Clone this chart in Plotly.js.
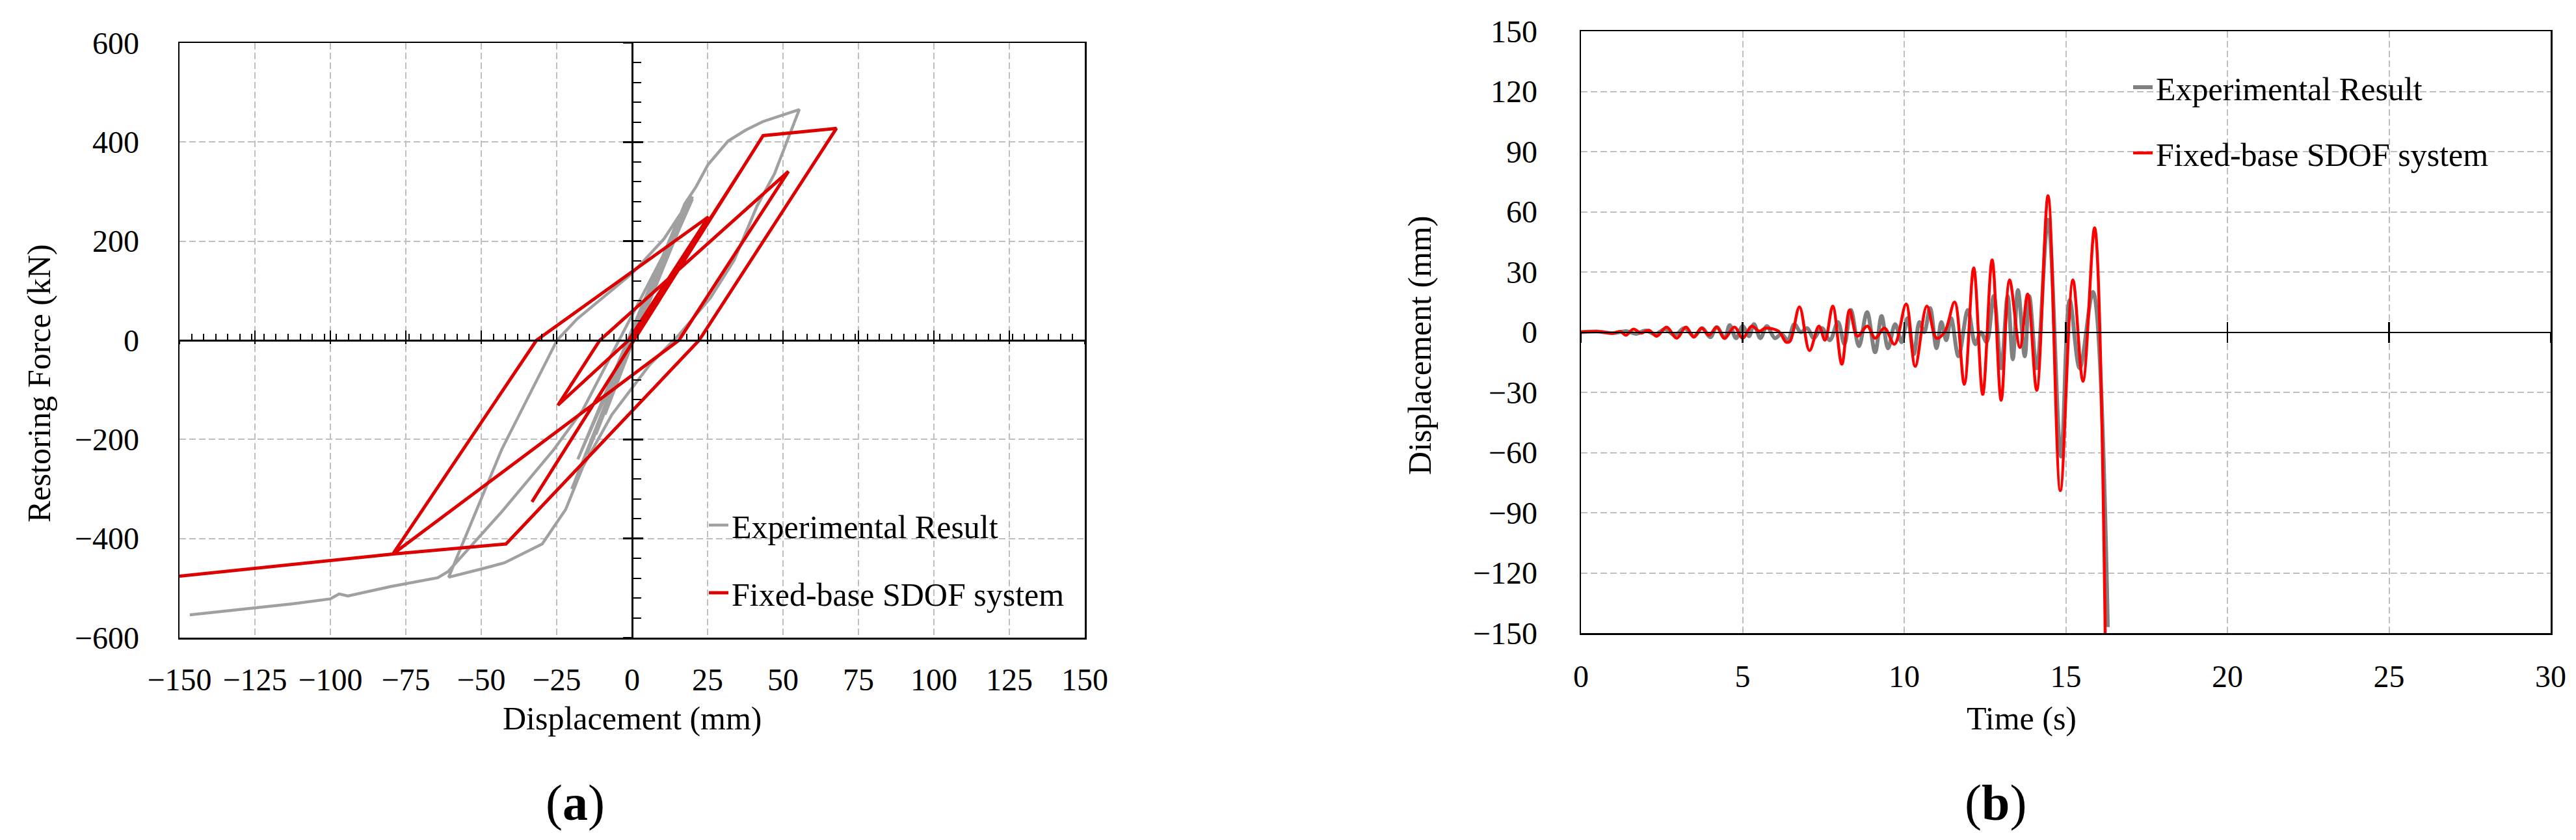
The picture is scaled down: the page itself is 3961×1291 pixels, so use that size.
<!DOCTYPE html>
<html>
<head>
<meta charset="utf-8">
<script src="https://cdn.plot.ly/plotly-3.0.1.min.js"></script>
<style>html,body{margin:0;padding:0;background:#fff;}#chart{width:3961px;height:1291px;}</style>
</head>
<body>
<div id="chart"></div>
<script>
// ---------- DATA: panel (a) hysteresis ----------
const expDisp = [0, 3, -3, 5, -5, 8, -7, 11, -9, 14, -12, 17, -14, 19, -16, 18, -17, 20, -15, 18.3, -20,
  17.4, 21.2, 25.1, 31.8, 37.6, 43.4, 55.4,
  52, 47.2, 41.4, 33.8, 26, 15.5, 5.8, -6.7, -16.3, -22, -29.8, -42.3, -50, -60.8,
  -43.2, -24.9, -18.2, -10.5, 0, 10.6, 16,
  -18, 20,
  -16.3, -25.9, -43.2, -61, -64.4, -79.8, -94.2, -97.1, -100, -112.5, -146.6];
const expForce = [0, 45, -50, 80, -85, 125, -115, 170, -150, 215, -190, 260, -215, 285, -240, 270, -255, 290, -230, 284, -300,
  275, 310, 354, 402, 424, 441.5, 465.7,
  411, 336.5, 271, 161.5, 86, 10.8, -49.5, -150, -255, -341, -411, -449, -461.5, -478,
  -220, 0, 43.3, 82.7, 135, 205, 255,
  -240, 285,
  -140, -220, -346, -466.6, -479, -496.7, -515.8, -511.8, -521.8, -531.6, -553.9];
const sdofDisp  = [0, 36, -33.2, 43.4, 67.7, 22.2, -41.8, -79.3, -31.7, 25.3, -1.2, -24.6, -10.7, 51.8, 15.5, -79.3, -150];
const sdofForce = [0, 342, -326, 413, 427.6, 0, -411, -431.4, 0, 249, 0, -131, 0, 341, 0, -431.4, -476];

// ---------- DATA: panel (b) displacement time history ----------
const expTime = [0, 0.5, 1.0, 1.4, 1.7, 2.0, 2.3, 2.6, 2.9, 3.2, 3.5, 3.75, 4.0, 4.2, 4.45, 4.6, 4.8, 5.0, 5.2, 5.35, 5.55, 5.75, 6.0, 6.2, 6.4, 6.6, 6.8, 7.0, 7.2, 7.45, 7.7, 7.95, 8.15, 8.35, 8.6, 8.85, 9.1, 9.3, 9.5, 9.72, 9.92, 10.1, 10.3, 10.47, 10.62, 10.8, 11.0, 11.15, 11.3, 11.45, 11.68, 11.97, 12.2, 12.37, 12.55, 12.77, 13.0, 13.2, 13.36, 13.52, 13.73, 13.87, 14.1, 14.45, 14.85, 15.12, 15.43, 15.84, 16.3];
const expResp = [0, 0.3, -0.5, 0.5, -0.8, 0.8, -1, 1.5, -1.5, 2, -2, 2, -2.5, 2.5, -3, 3.5, -3, 3, -2, 4, -3, 3, -3, -1, -4, 4, 0, 2, -3, 2, -4, 5, -6, 11, -7, 10, -10, 8, -8, 4, -5, 7, -11, 5, 0, 12, -8, 5, -4, 7, -12, 11, -6, 0, -5, 18, -18, 18, -13.5, 21, -12, 18, -18, 56, -62, 16, -18, 20, -147];
const sdofTime = [0, 0.5, 0.98, 1.22, 1.39, 1.62, 1.86, 2.1, 2.34, 2.65, 2.96, 3.25, 3.49, 3.73, 3.96, 4.2, 4.44, 4.75, 5.0, 5.28, 5.52, 5.71, 6.11, 6.35, 6.47, 6.76, 7.07, 7.36, 7.55, 7.79, 8.07, 8.31, 8.55, 8.86, 9.1, 9.39, 9.7, 10.06, 10.34, 10.7, 11.0, 11.25, 11.56, 11.86, 12.15, 12.43, 12.72, 13.0, 13.26, 13.58, 13.82, 14.1, 14.45, 14.83, 15.22, 15.53, 15.89, 16.22];
const sdofResp = [0, 0.3, -0.5, 0.3, -1.5, 1.5, -0.5, 1, -2, 2.5, -3, 2.5, -2.5, 2, -1.5, 2.5, -3, 2.5, -3, 3, 0.5, 2, 0.5, -5, -4.5, 12.6, -9.2, 3, -4, 13, -16, 11, -2, 3, -3, 2, -6, 14, -17, 13, -3, 0, 15, -26, 32, -31, 36, -34, 26, -7.6, 19, -29, 68, -79, 26, -24.5, 52, -152];

const seriesNames = ["Experimental Result", "Fixed-base SDOF system"];

// ---------- LAYOUT HELPERS ----------
const W = 3961, H = 1291;
const fx = p => p / W;
const fy = p => 1 - p / H;
const FONT = "Liberation Serif, Times New Roman, serif";
const gridDash = "10px,5px";
const gridColor = "#BFBFBF";

const aDomX = [fx(276), fx(1668)], aDomY = [fy(980), fy(66)];
const bDomX = [fx(2431), fx(3922)], bDomY = [fy(973), fy(48)];
const aMidY = (aDomY[0] + aDomY[1]) / 2;
const aZeroX = aDomX[0] + (aDomX[1] - aDomX[0]) * 0.5;
const bMidY = (bDomY[0] + bDomY[1]) / 2;

const traces = [
  {x: expDisp, y: expForce, xaxis: 'x', yaxis: 'y', mode: 'lines', name: seriesNames[0],
   line: {color: '#A0A0A0', width: 4.5}, legend: 'legend', legendgroup: 'a1'},
  {x: sdofDisp, y: sdofForce, xaxis: 'x', yaxis: 'y', mode: 'lines', name: seriesNames[1],
   line: {color: '#DD0000', width: 5}, legend: 'legend', legendgroup: 'a2'},
  {x: expTime, y: expResp, xaxis: 'x2', yaxis: 'y2', mode: 'lines', name: seriesNames[0],
   line: {color: '#808080', width: 6, shape: 'spline', smoothing: 1}, legend: 'legend2', legendgroup: 'b1'},
  {x: sdofTime, y: sdofResp, xaxis: 'x2', yaxis: 'y2', mode: 'lines', name: seriesNames[1],
   line: {color: '#FF0000', width: 4.5, shape: 'spline', smoothing: 1}, legend: 'legend2', legendgroup: 'b2'},
  // empty helper traces so the zero-crossing tick axes get drawn
  {x: [], y: [], xaxis: 'x3', yaxis: 'y3', showlegend: false, hoverinfo: 'skip'},
  {x: [], y: [], xaxis: 'x4', yaxis: 'y4', showlegend: false, hoverinfo: 'skip'},
  {x: [], y: [], xaxis: 'x5', yaxis: 'y2', showlegend: false, hoverinfo: 'skip'},
  {x: [], y: [], xaxis: 'x6', yaxis: 'y2', showlegend: false, hoverinfo: 'skip'}
];

const tickFont = {family: FONT, size: 48, color: '#000'};
const mainAxis = (extra) => Object.assign({
  showline: true, mirror: true, linecolor: '#000', linewidth: 2.5,
  showgrid: true, gridcolor: gridColor, gridwidth: 2, griddash: gridDash,
  zeroline: false, ticks: '', tickfont: tickFont, tickmode: 'linear', fixedrange: true
}, extra);
const tickAxis = (extra) => Object.assign({
  showgrid: false, zeroline: false, showticklabels: false, tickmode: 'linear',
  tickcolor: '#000', tickwidth: 2.5, fixedrange: true
}, extra);

const layout = {
  width: W, height: H,
  margin: {l: 0, r: 0, t: 0, b: 0, pad: 0},
  paper_bgcolor: '#fff', plot_bgcolor: '#fff',
  font: {family: FONT, size: 48, color: '#000'},
  xaxis: mainAxis({domain: aDomX, anchor: 'y', range: [-150, 150], tick0: 0, dtick: 25, ticklabelstandoff: 21}),
  yaxis: mainAxis({domain: aDomY, anchor: 'x', range: [-600, 600], tick0: 0, dtick: 200, ticklabelstandoff: 50}),
  xaxis2: mainAxis({domain: bDomX, anchor: 'y2', range: [0, 30], tick0: 0, dtick: 5, ticklabelstandoff: 23}),
  yaxis2: mainAxis({domain: bDomY, anchor: 'x2', range: [-150, 150], tick0: 0, dtick: 30, ticklabelstandoff: 55}),
  // panel (a) zero axes with crossing ticks
  xaxis3: tickAxis({overlaying: 'x', anchor: 'free', position: aMidY, range: [-150, 150], side: 'bottom',
    showline: true, linecolor: '#000', linewidth: 2.5, ticks: 'inside', ticklen: 14, tick0: 0, dtick: 25,
    minor: {ticks: 'inside', ticklen: 9, tick0: -150, dtick: 4, tickcolor: '#000', tickwidth: 2}}),
  yaxis3: tickAxis({overlaying: 'y', anchor: 'free', position: aZeroX, range: [-600, 600], side: 'left',
    showline: true, linecolor: '#000', linewidth: 2.5, ticks: 'inside', ticklen: 15, tick0: 0, dtick: 200,
    minor: {ticks: 'inside', ticklen: 12, tick0: 0, dtick: 40, tickcolor: '#000', tickwidth: 2}}),
  xaxis4: tickAxis({overlaying: 'x', anchor: 'free', position: aMidY, range: [-150, 150], side: 'bottom',
    showline: false, ticks: 'outside', ticklen: 5, tick0: 0, dtick: 25}),
  yaxis4: tickAxis({overlaying: 'y', anchor: 'free', position: aZeroX, range: [-600, 600], side: 'left',
    showline: false, ticks: 'outside', ticklen: 14, tick0: 0, dtick: 200}),
  // panel (b) zero axis with crossing ticks
  xaxis5: tickAxis({overlaying: 'x2', anchor: 'free', position: bMidY, range: [0, 30], side: 'bottom',
    showline: true, linecolor: '#000', linewidth: 2.5, ticks: 'inside', ticklen: 15, tick0: 0, dtick: 5}),
  xaxis6: tickAxis({overlaying: 'x2', anchor: 'free', position: bMidY, range: [0, 30], side: 'bottom',
    showline: false, ticks: 'outside', ticklen: 15, tick0: 0, dtick: 5}),
  legend: {x: fx(1085), y: fy(768), xanchor: 'left', yanchor: 'top', bgcolor: 'rgba(0,0,0,0)',
    font: {family: FONT, size: 50, color: '#000'}, tracegroupgap: 36, borderwidth: 0},
  legend2: {x: fx(3275), y: fy(95), xanchor: 'left', yanchor: 'top', bgcolor: 'rgba(0,0,0,0)',
    font: {family: FONT, size: 50, color: '#000'}, tracegroupgap: 33, borderwidth: 0},
  annotations: [
    {text: 'Displacement (mm)', x: fx(972), y: fy(1104), xref: 'paper', yref: 'paper', showarrow: false,
     xanchor: 'center', yanchor: 'middle', font: {family: FONT, size: 50, color: '#000'}},
    {text: 'Restoring Force (kN)', x: fx(60), y: fy(589), xref: 'paper', yref: 'paper', showarrow: false,
     textangle: -90, xanchor: 'center', yanchor: 'middle', font: {family: FONT, size: 50, color: '#000'}},
    {text: 'Time (s)', x: fx(3108), y: fy(1104), xref: 'paper', yref: 'paper', showarrow: false,
     xanchor: 'center', yanchor: 'middle', font: {family: FONT, size: 50, color: '#000'}},
    {text: 'Displacement (mm)', x: fx(2183), y: fy(531), xref: 'paper', yref: 'paper', showarrow: false,
     textangle: -90, xanchor: 'center', yanchor: 'middle', font: {family: FONT, size: 50, color: '#000'}},
    {text: '(<b>a</b>)', x: fx(884), y: fy(1233), xref: 'paper', yref: 'paper', showarrow: false,
     xanchor: 'center', yanchor: 'middle', font: {family: FONT, size: 78, color: '#000'}},
    {text: '(<b>b</b>)', x: fx(3068), y: fy(1233), xref: 'paper', yref: 'paper', showarrow: false,
     xanchor: 'center', yanchor: 'middle', font: {family: FONT, size: 78, color: '#000'}}
  ]
};

Plotly.newPlot('chart', traces, layout, {staticPlot: true, displayModeBar: false});
</script>
</body>
</html>
